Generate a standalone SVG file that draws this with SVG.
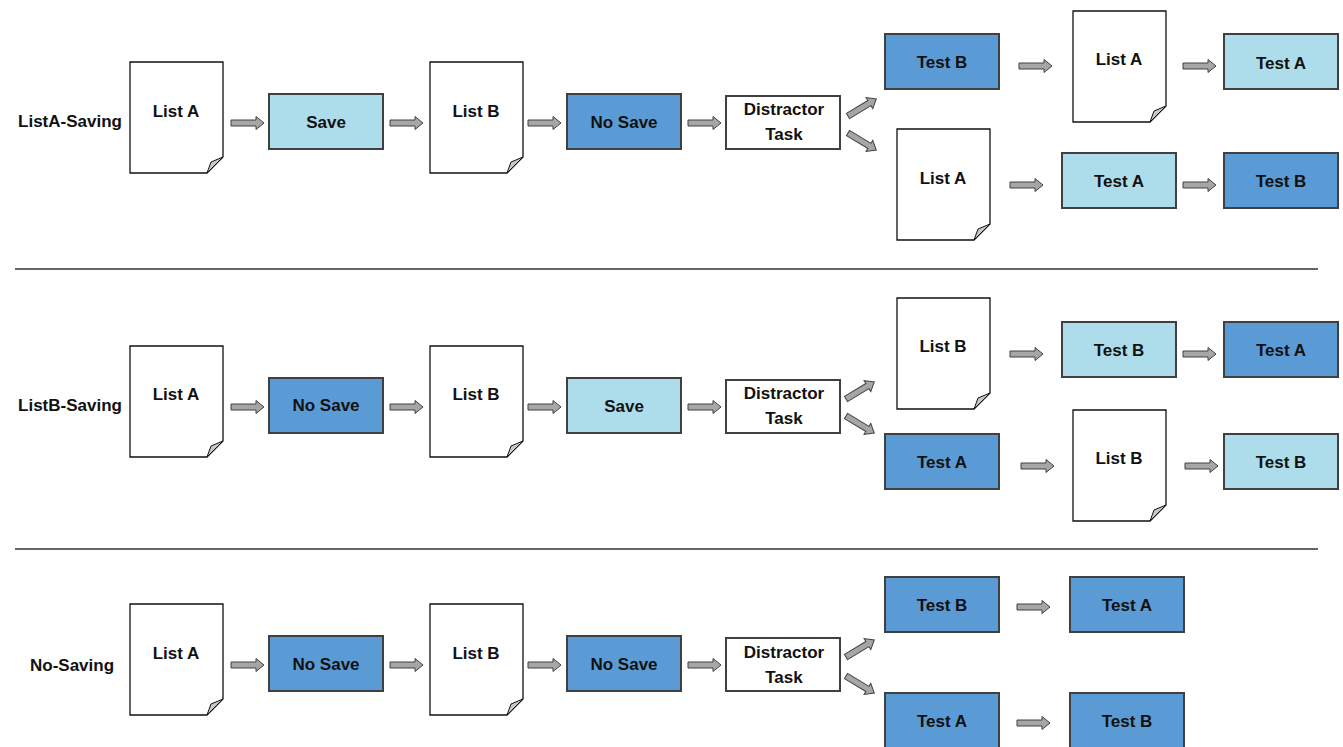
<svg xmlns="http://www.w3.org/2000/svg" width="1343" height="747" viewBox="0 0 1343 747" xmlns:xlink="http://www.w3.org/1999/xlink">
<style>
text{font-family:"Liberation Sans",Arial,sans-serif;font-weight:bold;font-size:17px;fill:#111;text-anchor:middle}
.light{fill:#ADDDEA;stroke:#404040;stroke-width:2}
.dark{fill:#5B9BD5;stroke:#404040;stroke-width:2}
.white{fill:#fff;stroke:#404040;stroke-width:2}
.docb{fill:#fff;stroke:#111;stroke-width:1.3}
.fold{fill:#C8C8C8;stroke:#111;stroke-width:1}
.arr{fill:#A6A6A6;stroke:#404040;stroke-width:1}
.sep{stroke:#333;stroke-width:1.5}
</style>
<defs>
<g id="doc">
<path class="docb" d="M0,0 H93 V95 L77,111 H0 Z"/>
<path class="fold" d="M77,111 L81,100 L93,95 Z"/>
</g>
<path id="ar" class="arr" d="M0,-3 H25 V-6.5 L33,0 L25,6.5 V3 H0 Z"/>
</defs>

<g id="separators">
<line class="sep" x1="15" y1="269" x2="1318" y2="269"/>
<line class="sep" x1="15" y1="549" x2="1318" y2="549"/>
</g>

<g id="row-labels">
<text x="70" y="127">ListA-Saving</text>
<text x="70" y="411">ListB-Saving</text>
<text x="72" y="671">No-Saving</text>
</g>

<g id="connectors">
<!-- row 1 -->
<use xlink:href="#ar" transform="translate(231,123)"/>
<use xlink:href="#ar" transform="translate(390,123)"/>
<use xlink:href="#ar" transform="translate(528,123)"/>
<use xlink:href="#ar" transform="translate(688,123)"/>
<use xlink:href="#ar" transform="translate(848,116) rotate(-31)"/>
<use xlink:href="#ar" transform="translate(848,133) rotate(31)"/>
<use xlink:href="#ar" transform="translate(1019,66)"/>
<use xlink:href="#ar" transform="translate(1183,66)"/>
<use xlink:href="#ar" transform="translate(1010,185)"/>
<use xlink:href="#ar" transform="translate(1183,185)"/>
<!-- row 2 -->
<use xlink:href="#ar" transform="translate(231,407)"/>
<use xlink:href="#ar" transform="translate(390,407)"/>
<use xlink:href="#ar" transform="translate(528,407)"/>
<use xlink:href="#ar" transform="translate(688,407)"/>
<use xlink:href="#ar" transform="translate(846,399) rotate(-31)"/>
<use xlink:href="#ar" transform="translate(846,416) rotate(31)"/>
<use xlink:href="#ar" transform="translate(1010,354)"/>
<use xlink:href="#ar" transform="translate(1183,354)"/>
<use xlink:href="#ar" transform="translate(1021,466)"/>
<use xlink:href="#ar" transform="translate(1185,466)"/>
<!-- row 3 -->
<use xlink:href="#ar" transform="translate(231,665)"/>
<use xlink:href="#ar" transform="translate(390,665)"/>
<use xlink:href="#ar" transform="translate(528,665)"/>
<use xlink:href="#ar" transform="translate(688,665)"/>
<use xlink:href="#ar" transform="translate(846,657) rotate(-31)"/>
<use xlink:href="#ar" transform="translate(846,676) rotate(31)"/>
<use xlink:href="#ar" transform="translate(1017,607)"/>
<use xlink:href="#ar" transform="translate(1017,723)"/>
</g>

<!-- Row 1 -->
<g id="r1-listA"><use xlink:href="#doc" transform="translate(130,62)"/><text x="176" y="117">List A</text></g>
<g id="r1-save"><rect class="light" x="269" y="94" width="114" height="55"/><text x="326" y="128">Save</text></g>
<g id="r1-listB"><use xlink:href="#doc" transform="translate(430,62)"/><text x="476" y="117">List B</text></g>
<g id="r1-nosave"><rect class="dark" x="567" y="94" width="114" height="55"/><text x="624" y="128">No Save</text></g>
<g id="r1-distractor"><rect class="white" x="726" y="96" width="114" height="53"/><text x="784" y="115">Distractor</text><text x="784" y="140">Task</text></g>
<g id="r1-testB-top"><rect class="dark" x="885" y="34" width="114" height="55"/><text x="942" y="68">Test B</text></g>
<g id="r1-listA-top"><use xlink:href="#doc" transform="translate(1073,11)"/><text x="1119" y="65">List A</text></g>
<g id="r1-testA-top"><rect class="light" x="1224" y="34" width="114" height="55"/><text x="1281" y="69">Test A</text></g>
<g id="r1-listA-bot"><use xlink:href="#doc" transform="translate(897,129)"/><text x="943" y="184">List A</text></g>
<g id="r1-testA-bot"><rect class="light" x="1062" y="153" width="114" height="55"/><text x="1119" y="187">Test A</text></g>
<g id="r1-testB-bot"><rect class="dark" x="1224" y="153" width="114" height="55"/><text x="1281" y="187">Test B</text></g>

<!-- Row 2 -->
<g id="r2-listA"><use xlink:href="#doc" transform="translate(130,346)"/><text x="176" y="400">List A</text></g>
<g id="r2-nosave"><rect class="dark" x="269" y="378" width="114" height="55"/><text x="326" y="411">No Save</text></g>
<g id="r2-listB"><use xlink:href="#doc" transform="translate(430,346)"/><text x="476" y="400">List B</text></g>
<g id="r2-save"><rect class="light" x="567" y="378" width="114" height="55"/><text x="624" y="412">Save</text></g>
<g id="r2-distractor"><rect class="white" x="726" y="380" width="114" height="53"/><text x="784" y="399">Distractor</text><text x="784" y="424">Task</text></g>
<g id="r2-listB-top"><use xlink:href="#doc" transform="translate(897,298)"/><text x="943" y="352">List B</text></g>
<g id="r2-testB-top"><rect class="light" x="1062" y="322" width="114" height="55"/><text x="1119" y="356">Test B</text></g>
<g id="r2-testA-top"><rect class="dark" x="1224" y="322" width="114" height="55"/><text x="1281" y="356">Test A</text></g>
<g id="r2-testA-bot"><rect class="dark" x="885" y="434" width="114" height="55"/><text x="942" y="468">Test A</text></g>
<g id="r2-listB-bot"><use xlink:href="#doc" transform="translate(1073,410)"/><text x="1119" y="464">List B</text></g>
<g id="r2-testB-bot"><rect class="light" x="1224" y="434" width="114" height="55"/><text x="1281" y="468">Test B</text></g>

<!-- Row 3 -->
<g id="r3-listA"><use xlink:href="#doc" transform="translate(130,604)"/><text x="176" y="659">List A</text></g>
<g id="r3-nosave1"><rect class="dark" x="269" y="636" width="114" height="55"/><text x="326" y="670">No Save</text></g>
<g id="r3-listB"><use xlink:href="#doc" transform="translate(430,604)"/><text x="476" y="659">List B</text></g>
<g id="r3-nosave2"><rect class="dark" x="567" y="636" width="114" height="55"/><text x="624" y="670">No Save</text></g>
<g id="r3-distractor"><rect class="white" x="726" y="638" width="114" height="53"/><text x="784" y="658">Distractor</text><text x="784" y="683">Task</text></g>
<g id="r3-testB-top"><rect class="dark" x="885" y="577" width="114" height="55"/><text x="942" y="611">Test B</text></g>
<g id="r3-testA-top"><rect class="dark" x="1070" y="577" width="114" height="55"/><text x="1127" y="611">Test A</text></g>
<g id="r3-testA-bot"><rect class="dark" x="885" y="693" width="114" height="55"/><text x="942" y="727">Test A</text></g>
<g id="r3-testB-bot"><rect class="dark" x="1070" y="693" width="114" height="55"/><text x="1127" y="727">Test B</text></g>
</svg>
